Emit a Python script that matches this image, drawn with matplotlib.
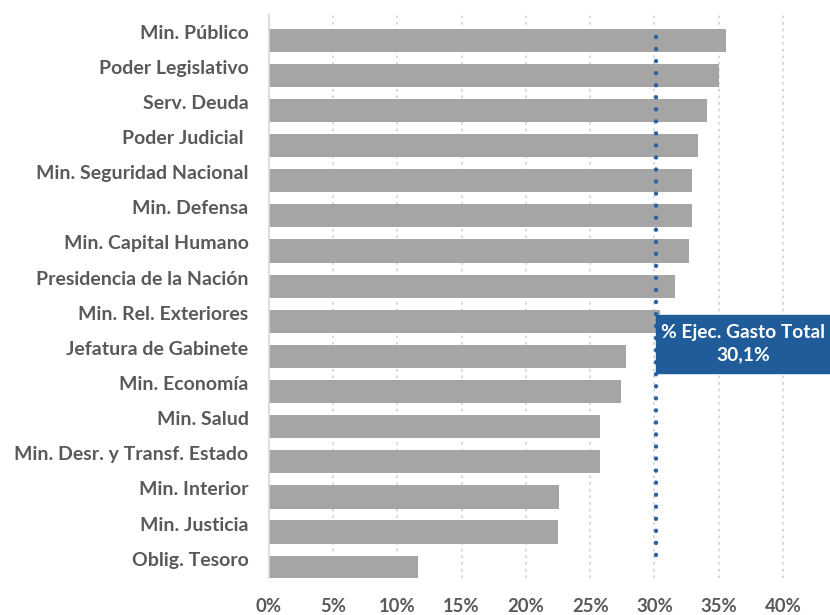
import matplotlib.pyplot as plt
from matplotlib.patches import Rectangle
from matplotlib.transforms import ScaledTranslation

categories = ["Min. Público", "Poder Legislativo", "Serv. Deuda", "Poder Judicial ",
              "Min. Seguridad Nacional", "Min. Defensa", "Min. Capital Humano",
              "Presidencia de la Nación", "Min. Rel. Exteriores", "Jefatura de Gabinete",
              "Min. Economía", "Min. Salud", "Min. Desr. y Transf. Estado",
              "Min. Interior", "Min. Justicia", "Oblig. Tesoro"]
ejecucion = [0.3556, 0.350, 0.341, 0.334, 0.329, 0.329, 0.327, 0.316,
             0.304, 0.278, 0.274, 0.258, 0.258, 0.226, 0.225, 0.116]
total = 0.301
total_label = "% Ejec. Gasto Total\n30,1%"
x_ticks = [0, 0.05, 0.10, 0.15, 0.20, 0.25, 0.30, 0.35, 0.40]
x_tick_labels = ["0%", "5%", "10%", "15%", "20%", "25%", "30%", "35%", "40%"]

plt.rcParams['font.family'] = ['Lato', 'DejaVu Sans']
text_gray = "#595959"

fig = plt.figure(figsize=(8.3, 6.15), dpi=100)
ax = fig.add_axes([0.3237, 0.060, 0.6763, 0.917])

pos = list(range(len(categories)))
ax.barh(pos, ejecucion, height=0.66, color="#A5A5A5", zorder=2)
ax.set_ylim(15.31, -0.74)
ax.set_xlim(0, 0.4365)

ax.set_yticks(pos)
ax.set_yticklabels(categories, fontsize=14, fontweight="bold", color=text_gray)
ax.set_xticks(x_ticks)
ax.set_xticklabels(x_tick_labels, fontsize=13.3, fontweight="bold", color=text_gray)
ax.tick_params(axis="both", length=0)
ax.tick_params(axis="y", pad=14.5)
ax.tick_params(axis="x", pad=14)

# etiquetas un poco por encima del centro de la barra, como en Excel
shift = ScaledTranslation(0, 0.085, fig.dpi_scale_trans)
for lbl in ax.get_yticklabels():
    lbl.set_transform(lbl.get_transform() + shift)

ax.grid(axis="x", color="#D0D0D0", linestyle=(0, (1.5, 2.5)), linewidth=1.2, zorder=0)
ax.grid(axis="y", visible=False)
for s in ["top", "right", "bottom"]:
    ax.spines[s].set_visible(False)
ax.spines["left"].set_color("#D9D9D9")
ax.spines["left"].set_linewidth(1.2)

# linea de ejecucion total
ax.vlines(total, -0.1, 14.8, colors="#2E62A0", linewidth=3.2,
          linestyles=(0, (0.01, 2.7)), zorder=4)
for coll in ax.collections:
    coll.set_capstyle("round")

blue = "#1F5C99"
ax.add_patch(Rectangle((total, 7.82), 0.4365 - total, 1.65, color=blue,
                       zorder=5, clip_on=False))
ax.text(total + (0.4365 - total) / 2, 8.645, total_label, ha="center", va="center",
        color="white", fontsize=13.8, fontweight="bold", linespacing=1.35, zorder=6)

fig.savefig("out.png", dpi=100)
